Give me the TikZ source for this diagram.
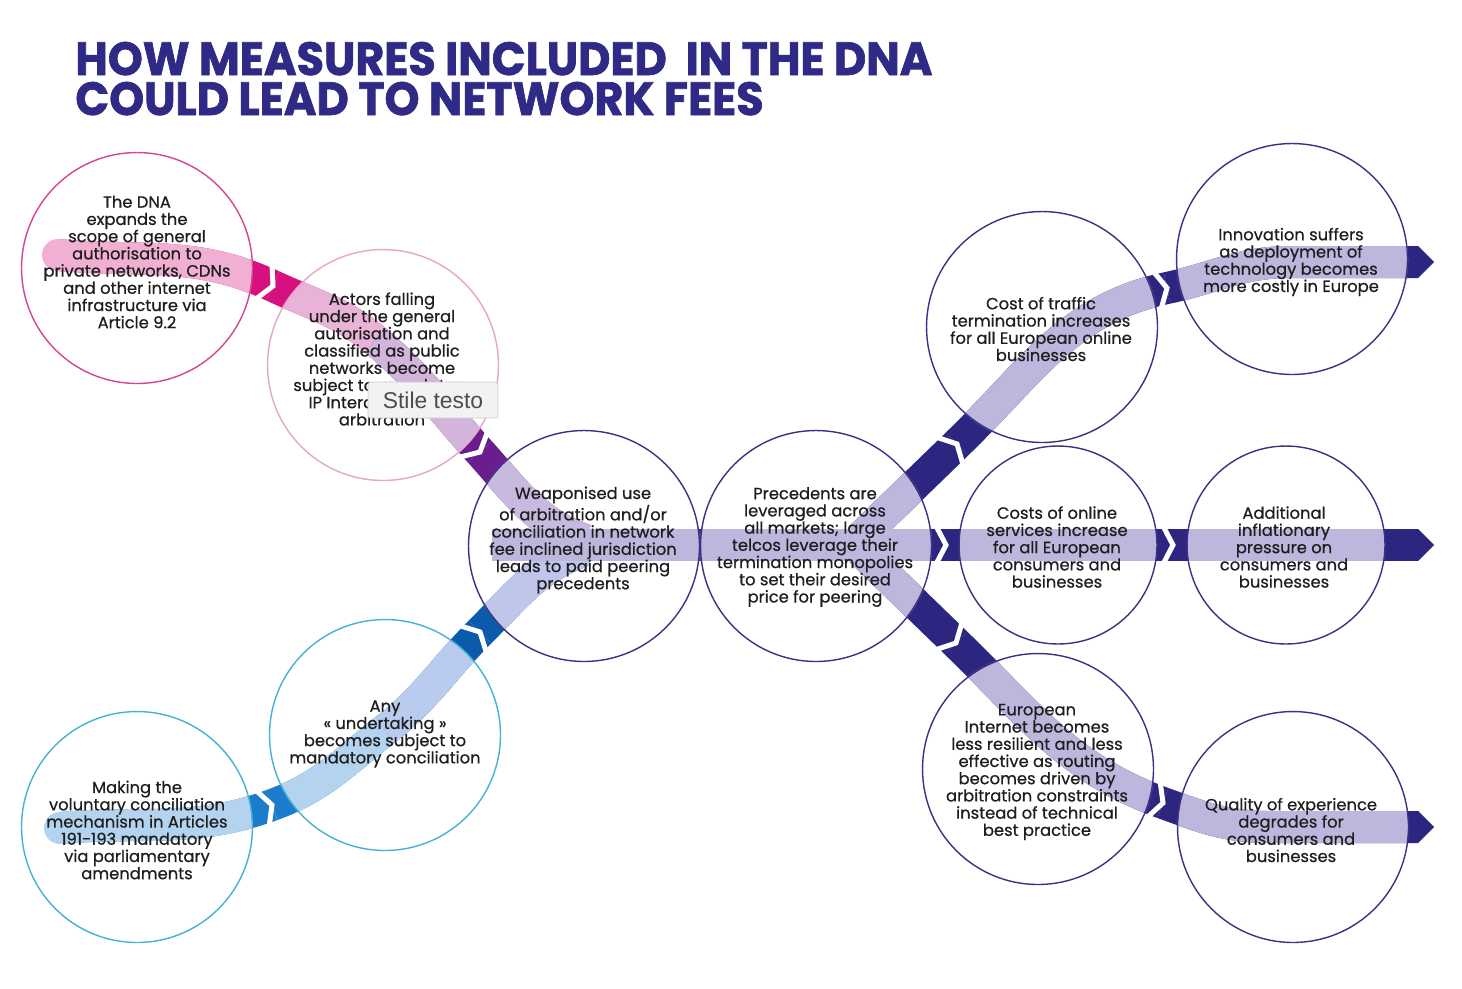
\documentclass[tikz,border=0pt]{standalone}
\usepackage{fontspec}
\setmainfont{Poppins}
\newfontfamily\bodyfont{Poppins}[FakeBold=0.6]
\newfontfamily\titlefont{Poppins}[BoldFeatures={FakeBold=1.5}]
\newfontfamily\tipfont{Liberation Sans}
\usetikzlibrary{backgrounds}

\definecolor{inkc}{HTML}{1E1E1E}
\definecolor{titlec}{HTML}{2F2A85}
\definecolor{navy}{HTML}{2C2680}
\definecolor{lav}{HTML}{BDB6DD}
\definecolor{magdark}{HTML}{D6107E}
\definecolor{purdark}{HTML}{6A1D8C}
\definecolor{bluedark}{HTML}{1B7CCC}
\definecolor{bluedeep}{HTML}{0C5AAB}
\definecolor{pinklt}{HTML}{F1B0D3}
\definecolor{pinklav}{HTML}{E8B3D7}
\definecolor{lavpink}{HTML}{D3B5DC}
\definecolor{lavlt}{HTML}{C8BADF}
\definecolor{bluelt}{HTML}{B3D3EF}
\definecolor{bluelav}{HTML}{B9CBEE}
\definecolor{lavblue}{HTML}{C0C5EA}
\definecolor{ringmag}{HTML}{D64592}
\definecolor{ringpink}{HTML}{E8A5CB}
\definecolor{ringcyan}{HTML}{45B3D3}
\definecolor{ringnavy}{HTML}{3B3283}

\def\bandlist{%
  {(58,-255) to[out=-5,in=155] (j1)}/magdark/pinklt,
  {(j1) to[out=-25,in=140] (m2)}/magdark/pinklav,
  {(m2) to[out=-40,in=132] (j2)}/purdark/lavpink,
  {(j2) to[out=-48,in=160] (585,-540)}/purdark/lavlt,
  {(60,-828) to[out=5,in=200] (jb1)}/bluedark/bluelt,
  {(jb1) to[out=20,in=218] (m5)}/bluedark/bluelt,
  {(m5) to[out=38,in=225] (jb2)}/bluedeep/bluelav,
  {(jb2) to[out=45,in=200] (585,-550)}/bluedeep/lavblue,
  {(492,-545) -- (j3)}/navy/lav,
  {(j3) -- (j4)}/navy/lav,
  {(j4) -- (1418,-545)}/navy/lav,
  {(860,-538) -- (ju1)}/navy/lav,
  {(ju1) to[out=44,in=192] (ju2)}/navy/lav,
  {(ju2) to[out=12,in=180] (1290,-262) -- (1418,-262)}/navy/lav,
  {(860,-550) -- (jl1)}/navy/lav,
  {(jl1) to[out=-44,in=160] (jl2)}/navy/lav,
  {(jl2) to[out=-20,in=180] (1270,-827) -- (1418,-827)}/navy/lav}

\begin{document}
\begin{tikzpicture}
[x=0.02cm,y=0.02cm,
  ring/.style={circle,draw=#1,line width=0.8pt,minimum size=4.62cm,inner sep=0pt},
  txt/.style={align=center,font=\bodyfont\fontsize{9.3}{9.8}\selectfont,text=inkc,inner sep=0pt},
  title/.style={font=\titlefont\fontsize{26.5}{30}\selectfont\bfseries,text=titlec,inner sep=0pt,
    text height=0.67cm,text depth=0pt},
  band/.style={line width=0.64cm},
  gapline/.style={white,line width=0.1cm,line join=miter}]
\useasboundingbox (0,0) rectangle (1462,-988);

\node[title,anchor=base west] (title1) at (75,-75) {\scalebox{0.955}[1]{HOW MEASURES INCLUDED\ \ IN THE DNA}};
\node[title,anchor=base west] (title2) at (75,-115) {\scalebox{0.955}[1]{COULD LEAD TO NETWORK FEES}};

% circles
\node[ring=ringmag] (dna) at (137,-268) {};
\node[ring=ringpink] (actors) at (383,-365) {};
\node[ring=ringnavy] (weapon) at (584,-546) {};
\node[ring=ringnavy] (preced) at (816,-546) {};
\node[ring=ringcyan] (undert) at (385,-735) {};
\node[ring=ringcyan] (making) at (137,-827) {};
\node[ring=ringnavy] (costtr) at (1042,-327) {};
\node[ring=ringnavy] (innov) at (1292,-259) {};
\node[ring=ringnavy,minimum size=3.96cm] (coston) at (1058,-545) {};
\node[ring=ringnavy,minimum size=3.96cm] (inflat) at (1286,-545) {};
\node[ring=ringnavy] (europ) at (1038,-769) {};
\node[ring=ringnavy] (quality) at (1293,-827) {};

\node[txt] (dna-t) at (137,-262) {The DNA\\expands the\\scope of general\\authorisation to\\private networks, CDNs\\and other internet\\infrastructure via\\Article 9.2};
\node[txt] (actors-t) at (382,-359) {Actors falling\\under the general\\autorisation and\\classified as public\\networks become\\subject to mandatory\\IP Interconnection\\arbitration};
\node[txt] (weapon-t) at (583,-540) {Weaponised use\\of arbitration and/or\\conciliation in network\\fee inclined jurisdiction\\leads to paid peering\\precedents};
\node[txt] (preced-t) at (815,-547) {Precedents are\\leveraged across\\all markets; large\\telcos leverage their\\termination monopolies\\to set their desired\\price for peering};
\node[txt] (undert-t) at (385,-734) {Any\\« undertaking »\\becomes subject to\\mandatory conciliation};
\node[txt] (making-t) at (137,-830) {Making the\\voluntary conciliation\\mechanism in Articles\\191-193 mandatory\\via parliamentary\\amendments};
\node[txt] (costtr-t) at (1041,-329) {Cost of traffic\\termination increases\\for all European online\\businesses};
\node[txt] (innov-t) at (1291,-262) {Innovation suffers\\as deployment of\\technology becomes\\more costly in Europe};
\node[txt] (coston-t) at (1057,-547) {Costs of online\\services increase\\for all European\\consumers and\\businesses};
\node[txt] (inflat-t) at (1284,-547) {Additional\\inflationary\\pressure on\\consumers and\\businesses};
\node[txt] (europ-t) at (1037,-772) {European\\Internet becomes\\less resilient and less\\effective as routing\\becomes driven by\\arbitration constraints\\instead of technical\\best practice};
\node[txt] (quality-t) at (1291,-830) {Quality of experience\\degrades for\\consumers and\\businesses};

\coordinate (j1) at (273,-286);
\coordinate (m2) at (375,-340);
\coordinate (j2) at (480,-452);
\coordinate (jb1) at (272,-805);
\coordinate (m5) at (385,-730);
\coordinate (jb2) at (480,-632);
\coordinate (j3) at (946,-545);
\coordinate (j4) at (1173,-545);
\coordinate (ju1) at (957,-444);
\coordinate (ju2) at (1167,-288);
\coordinate (jl1) at (956,-643);
\coordinate (jl2) at (1163,-803);

% ribbons: dark outside the circles, light inside
\begin{scope}[on background layer]
  \fill[white] (0,0) rectangle (1462,-988);
  \foreach \p/\dk/\lt in \bandlist {\draw[band,draw=\dk] \p;}
  \foreach \y in {-262,-545,-827}
    \fill[navy] (1418,\y+16) -- (1434,\y) -- (1418,\y-16) -- cycle;
  \begin{scope}
    \clip (dna.center) circle (115) (actors.center) circle (116)
      (weapon.center) circle (116) (preced.center) circle (116)
      (undert.center) circle (115) (making.center) circle (115)
      (costtr.center) circle (116) (innov.center) circle (116)
      (coston.center) circle (99) (inflat.center) circle (99)
      (europ.center) circle (116) (quality.center) circle (115);
    \foreach \p/\dk/\lt in \bandlist {\draw[band,draw=\lt] \p;}
    \fill[pinklt] (58,-255) circle (16);
    \fill[bluelt] (60,-828) circle (16);
  \end{scope}
  \foreach \j/\a in {j1/-25,j2/-48,jb1/20,jb2/45,j3/0,j4/0,ju1/44,ju2/12,jl1/-44,jl2/-20}{
    \begin{scope}[shift={(\j)},rotate=\a]
      \draw[gapline] (-11,-21) -- (0,0) -- (-11,21);
    \end{scope}}
\end{scope}

\node[draw=black!20,fill=black!5,rounded corners=1.5pt,minimum width=2.6cm,minimum height=0.72cm,
  font=\tipfont\fontsize{13}{15}\selectfont,text=black!70] (tip) at (433,-400) {Stile testo};
\end{tikzpicture}
\end{document}
